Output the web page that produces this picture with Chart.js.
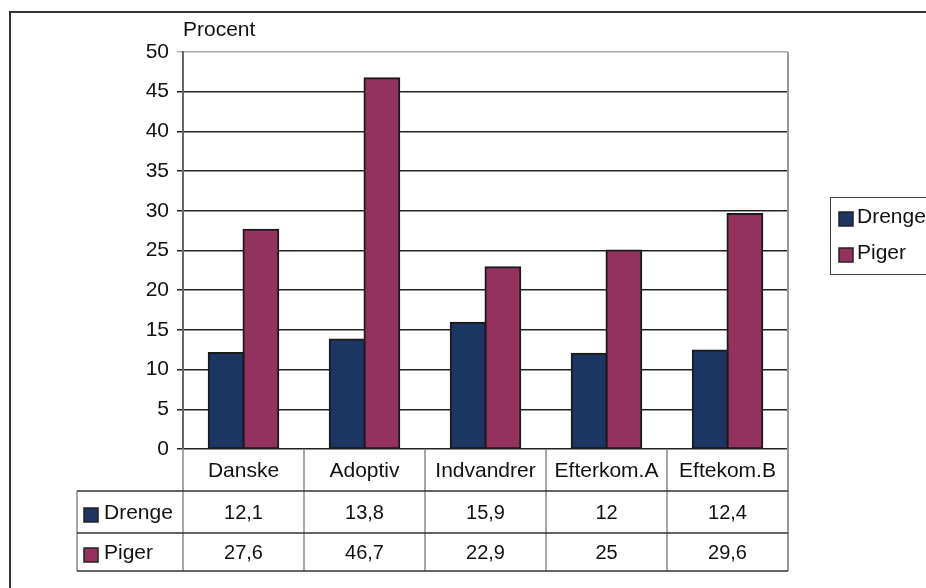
<!DOCTYPE html>
<html>
<head>
<meta charset="utf-8">
<script src="https://cdn.jsdelivr.net/npm/chart.js@4.4.0/dist/chart.umd.min.js"></script>
<style>
  html, body { margin: 0; padding: 0; background: #fff; }
  #wrap { width: 926px; height: 588px; position: relative; }
</style>
</head>
<body>
<div id="wrap"><canvas id="c" width="926" height="588"></canvas></div>
<script>
const categories = ['Danske', 'Adoptiv', 'Indvandrer', 'Efterkom.A', 'Eftekom.B'];
const drengeValues = [12.1, 13.8, 15.9, 12, 12.4];
const pigerValues = [27.6, 46.7, 22.9, 25, 29.6];
const seriesNames = ['Drenge', 'Piger'];
const axisTitle = 'Procent';
const yMin = 0, yMax = 50, yStep = 5;

const BLUE = '#1d3563';
const PINK = '#94325f';
const FONT = '"Liberation Sans", Arial, sans-serif';

function fmt(v) { return String(v).replace('.', ','); }

function swatch(ctx, x, cy, col) {
  ctx.fillStyle = col;
  ctx.fillRect(x, cy - 7, 14, 14);
  ctx.strokeStyle = '#222';
  ctx.lineWidth = 1.5;
  ctx.strokeRect(x, cy - 7, 14, 14);
}

const tablePlugin = {
  id: 'tablePlugin',
  afterDraw(chart) {
    const ctx = chart.ctx;
    const area = chart.chartArea;
    const xs = chart.scales.x;
    const n = categories.length;
    const catW = (area.right - area.left) / n;
    const headTop = area.bottom;
    const row1 = headTop + 42;
    const row2 = row1 + 42;
    const row3 = row2 + 38;
    const labelLeft = 77;

    ctx.save();
    ctx.fillStyle = '#111';
    ctx.font = '21px ' + FONT;
    ctx.textBaseline = 'middle';
    ctx.textAlign = 'left';
    ctx.fillText(axisTitle, area.left, 30);

    ctx.strokeStyle = '#999';
    ctx.lineWidth = 2;
    ctx.beginPath();
    ctx.moveTo(area.right, area.top);
    ctx.lineTo(area.right, row3);
    ctx.stroke();

    ctx.strokeStyle = '#8a8a8a';
    ctx.lineWidth = 1.5;
    ctx.beginPath();
    for (let i = 0; i < n; i++) {
      const cx = xs.getPixelForValue(i);
      const x0 = cx - catW / 2;
      ctx.moveTo(x0, headTop);
      ctx.lineTo(x0, row3);
    }
    ctx.moveTo(labelLeft, row1);
    ctx.lineTo(labelLeft, row3);
    ctx.stroke();

    ctx.strokeStyle = '#333';
    ctx.lineWidth = 1.5;
    ctx.beginPath();
    [row1, row2, row3].forEach(y => {
      ctx.moveTo(labelLeft, y);
      ctx.lineTo(area.right, y);
    });
    ctx.stroke();

    ctx.fillStyle = '#111';
    ctx.textAlign = 'center';
    ctx.textBaseline = 'middle';
    for (let i = 0; i < n; i++) {
      const cx = xs.getPixelForValue(i);
      ctx.font = '21px ' + FONT;
      ctx.fillText(categories[i], cx, (headTop + row1) / 2 + 1);
      ctx.font = '20px ' + FONT;
      ctx.fillText(fmt(drengeValues[i]), cx, (row1 + row2) / 2 + 1);
      ctx.fillText(fmt(pigerValues[i]), cx, (row2 + row3) / 2 + 1);
    }

    ctx.font = '21px ' + FONT;
    const rows = [[(row1 + row2) / 2, BLUE, seriesNames[0]], [(row2 + row3) / 2, PINK, seriesNames[1]]];
    rows.forEach(([cy, col, label]) => {
      swatch(ctx, 84, cy + 3, col);
      ctx.fillStyle = '#111';
      ctx.textAlign = 'left';
      ctx.fillText(label, 104, cy + 1);
    });

    ctx.strokeStyle = '#444';
    ctx.lineWidth = 1;
    ctx.strokeRect(830.5, 197.5, 130, 77);
    const leg = [[219, BLUE, seriesNames[0]], [255, PINK, seriesNames[1]]];
    leg.forEach(([cy, col, label]) => {
      swatch(ctx, 839, cy, col);
      ctx.fillStyle = '#111';
      ctx.textAlign = 'left';
      ctx.fillText(label, 857, cy - 2);
    });

    ctx.strokeStyle = '#333';
    ctx.lineWidth = 2;
    ctx.beginPath();
    ctx.moveTo(10, 588);
    ctx.lineTo(10, 12);
    ctx.lineTo(926, 12);
    ctx.stroke();
    ctx.restore();
  }
};

new Chart(document.getElementById('c'), {
  type: 'bar',
  data: {
    labels: categories,
    datasets: [
      { label: seriesNames[0], data: drengeValues, backgroundColor: BLUE, borderColor: '#1a1a1a', borderWidth: 2, borderSkipped: false, inflateAmount: 1 },
      { label: seriesNames[1], data: pigerValues, backgroundColor: PINK, borderColor: '#1a1a1a', borderWidth: 2, borderSkipped: false, inflateAmount: 1 }
    ]
  },
  options: {
    responsive: false,
    animation: false,
    devicePixelRatio: 1,
    layout: { padding: { left: 0, top: 52, right: 138, bottom: 139 } },
    plugins: { legend: { display: false }, tooltip: { enabled: false } },
    datasets: { bar: { categoryPercentage: 0.575, barPercentage: 1.0 } },
    scales: {
      x: { display: false },
      y: {
        min: yMin, max: yMax,
        ticks: { stepSize: yStep, color: '#111', font: { family: FONT, size: 21 }, padding: 8 },
        grid: {
          color: c => (c.tick && c.tick.value === yMax) ? '#aaa' : '#222',
          lineWidth: 1.5,
          tickLength: 6,
          drawTicks: true
        },
        border: { color: '#666', width: 2 },
        afterFit: s => { s.width = 183; }
      }
    }
  },
  plugins: [tablePlugin]
});
</script>
</body>
</html>
